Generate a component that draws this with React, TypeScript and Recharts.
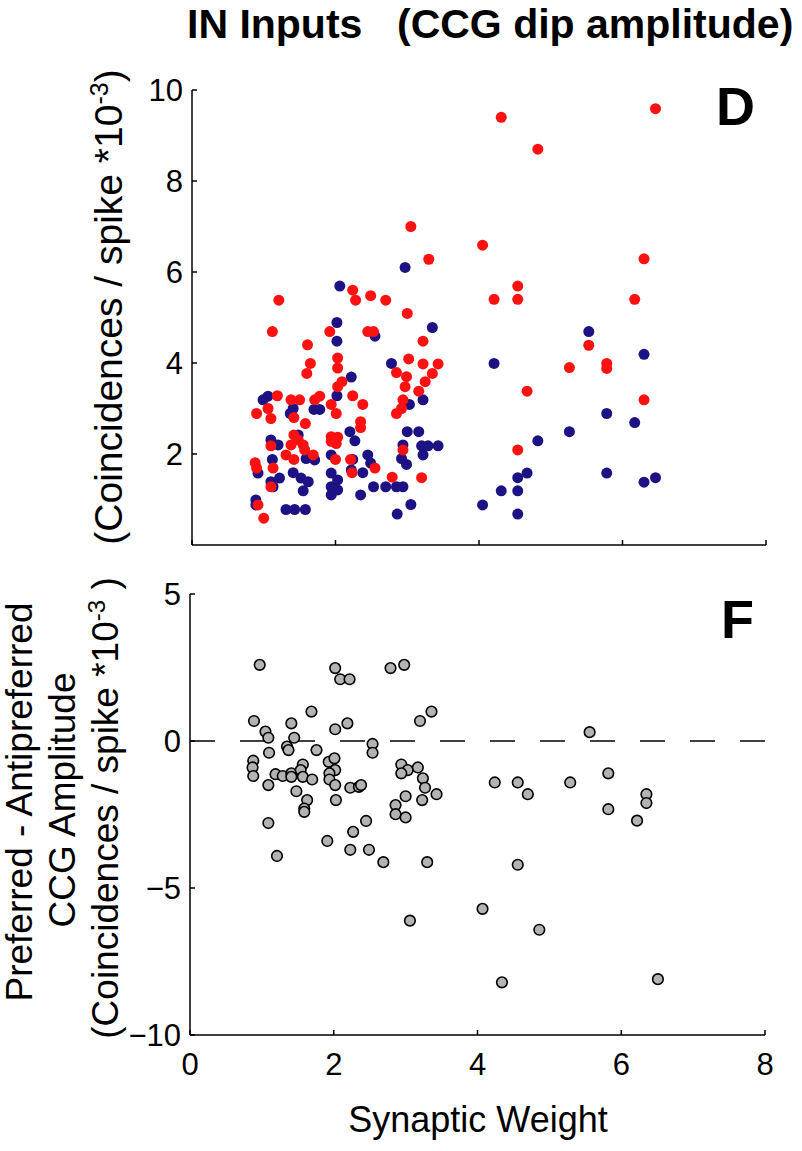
import React from 'react';
import { ScatterChart, Scatter, XAxis, YAxis, ReferenceLine } from 'recharts';

// panel D: CCG dip amplitude vs synaptic weight, two cell groups
const redDips: [number, number][] = [
  [1.21, 5.38], [1.12, 4.69], [1.61, 4.4], [1.65, 3.99], [1.6, 3.77], [1.92, 4.69], [2.03, 4.11], [2.03, 3.89],
  [2.03, 3.48], [1.19, 3.28], [1.38, 3.19], [1.5, 3.19], [1.71, 3.19], [1.78, 3.27], [1.94, 3.09], [1.06, 3.0],
  [0.9, 2.89], [1.1, 2.78], [1.42, 2.8], [1.58, 2.67], [2.01, 2.89], [1.42, 2.42], [1.48, 2.31], [1.38, 2.2],
  [1.55, 2.2], [1.57, 2.09], [1.69, 1.98], [1.31, 1.98], [1.42, 1.88], [1.1, 2.18], [1.94, 2.38], [2.01, 2.23],
  [2.0, 1.88], [0.88, 1.81], [0.9, 1.69], [1.13, 1.69], [1.1, 1.28], [0.92, 0.88], [1.0, 0.59], [2.03, 2.37],
  [1.94, 2.28],
  [3.05, 7.0], [3.3, 6.28], [2.24, 5.6], [2.28, 5.38], [2.49, 5.48], [2.7, 5.38], [3.0, 5.09], [2.45, 4.69],
  [2.53, 4.69], [3.22, 4.48], [3.02, 4.09], [3.22, 3.98], [3.43, 3.98], [2.85, 3.79], [2.99, 3.7], [2.97, 3.48],
  [3.35, 3.77], [3.25, 3.59], [3.16, 3.38], [2.09, 3.59], [2.24, 3.28], [2.38, 3.09], [2.94, 3.19], [2.92, 3.0],
  [2.85, 2.89], [2.35, 2.71], [2.35, 2.58], [2.21, 1.88], [2.94, 2.09], [2.55, 1.69], [2.23, 1.59], [2.79, 1.49],
  [3.2, 1.48],
  [4.31, 9.4], [6.46, 9.59], [4.82, 8.7], [4.05, 6.59], [6.3, 6.29], [4.21, 5.4], [4.54, 5.69], [4.54, 5.4],
  [6.17, 5.4], [5.53, 4.39], [5.26, 3.9], [5.78, 3.99], [5.78, 3.88], [4.67, 3.38], [6.3, 3.19], [4.54, 2.09],
];

const blueDips: [number, number][] = [
  [2.06, 5.69], [2.02, 4.89], [2.02, 4.48], [2.02, 3.28], [1.06, 3.27], [0.99, 3.19], [1.41, 3.0], [1.37, 2.89],
  [1.7, 2.98], [1.78, 2.98], [1.1, 2.31], [1.2, 2.2], [1.48, 2.42], [1.59, 1.9], [1.71, 1.87], [1.12, 1.88],
  [1.94, 1.98], [0.92, 1.58], [1.41, 1.59], [1.52, 1.47], [1.62, 1.39], [1.22, 1.47], [1.1, 1.39], [1.13, 1.28],
  [1.55, 1.19], [1.94, 1.58], [1.94, 1.28], [1.94, 1.1], [2.03, 1.43], [2.03, 1.21], [0.89, 0.99], [0.89, 0.88],
  [1.31, 0.78], [1.43, 0.78], [1.58, 0.78],
  [2.97, 6.1], [2.55, 4.59], [3.35, 4.78], [2.78, 3.99], [2.22, 3.69], [3.03, 3.09], [3.22, 3.19], [2.2, 2.49],
  [2.27, 2.29], [3.0, 2.49], [3.16, 2.49], [2.94, 2.2], [3.2, 2.18], [3.29, 2.18], [3.43, 2.18], [3.22, 1.98],
  [2.92, 1.9], [2.99, 1.77], [2.45, 1.98], [2.49, 1.8], [2.24, 1.88], [2.22, 1.65], [2.38, 1.59], [2.35, 1.1],
  [2.53, 1.28], [2.7, 1.28], [2.85, 1.28], [2.94, 1.28], [3.05, 0.89], [2.86, 0.68],
  [5.53, 4.69], [6.3, 4.19], [4.21, 3.99], [5.78, 2.89], [6.17, 2.69], [5.26, 2.49], [4.82, 2.29], [4.67, 1.58],
  [4.54, 1.48], [5.78, 1.58], [6.3, 1.38], [6.46, 1.48], [4.31, 1.19], [4.54, 1.19], [4.05, 0.88], [4.54, 0.68],
];

// panel F: preferred - antipreferred difference
const diffs: [number, number][] = [
  [0.97, 2.59], [2.02, 2.48], [2.09, 2.1], [2.22, 2.1], [2.79, 2.48], [2.98, 2.59], [1.69, 1.0], [0.89, 0.68],
  [1.41, 0.6], [2.19, 0.6], [3.2, 0.68], [3.36, 1.0], [2.02, 0.4], [1.05, 0.32], [1.09, 0.11], [1.45, 0.11],
  [2.54, -0.1], [2.54, -0.4], [1.35, -0.19], [1.37, -0.31], [1.76, -0.31], [1.1, -0.4], [0.88, -0.67], [0.87, -0.9],
  [0.88, -1.19], [1.19, -1.13], [1.29, -1.19], [1.41, -1.1], [1.41, -1.22], [1.57, -0.8], [1.54, -0.99], [1.57, -1.22],
  [1.7, -1.31], [1.93, -0.71], [2.01, -0.59], [2.02, -0.99], [1.94, -1.1], [1.94, -1.31], [2.02, -1.5], [1.09, -1.5],
  [2.23, -1.59], [2.35, -1.56], [2.38, -1.5], [1.48, -1.71], [1.63, -2.01], [1.59, -2.3], [1.59, -2.41], [2.03, -2.01],
  [2.94, -0.8], [3.03, -0.99], [2.94, -1.1], [3.17, -0.9], [3.24, -1.27], [3.27, -1.59], [3.43, -1.81], [3.23, -2.01],
  [3.0, -1.88], [2.86, -2.18], [2.86, -2.49], [3.0, -2.6], [1.09, -2.79], [2.45, -2.72], [2.27, -3.09], [1.91, -3.4],
  [2.23, -3.7], [2.49, -3.7], [1.21, -3.91], [2.69, -4.12], [3.3, -4.12], [5.56, 0.3], [4.24, -1.41], [4.56, -1.41],
  [4.7, -1.81], [5.29, -1.41], [5.82, -1.1], [5.82, -2.32], [6.35, -1.81], [6.35, -2.11], [6.22, -2.71], [4.56, -4.21],
  [3.06, -6.11], [4.07, -5.71], [4.86, -6.42], [4.34, -8.21], [6.51, -8.1],
];

const weightTicks = [0, 2, 4, 6, 8];
const dipTicks = [2, 4, 6, 8, 10];
const diffTicks = [-10, -5, 0, 5];

const FONT = "'Liberation Sans', Arial, Helvetica, sans-serif";
const toXY = (pts: [number, number][]) => pts.map(([x, y]) => ({ x, y }));
const fmt = (v: number) => (v < 0 ? '\u2212' + Math.abs(v) : String(v));

function LeftTick(props: any) {
  const { x, y, payload, showLabel = true } = props;
  return (
    <g>
      <line x1={x} y1={y} x2={x + 5} y2={y} stroke="#000" strokeWidth={1.5} />
      {showLabel && (
        <text x={x - 9} y={y + 11} textAnchor="end" fontSize={31} fontFamily={FONT} fill="#000">
          {fmt(payload.value)}
        </text>
      )}
    </g>
  );
}

function BottomTick(props: any) {
  const { x, y, payload, showLabel = true } = props;
  return (
    <g>
      <line x1={x} y1={y} x2={x} y2={y - 5} stroke="#000" strokeWidth={1.5} />
      {showLabel && (
        <text x={x} y={y + 40} textAnchor="middle" fontSize={31} fontFamily={FONT} fill="#000">
          {fmt(payload.value)}
        </text>
      )}
    </g>
  );
}

const dot = (fill: string) => (p: any) => <circle cx={p.cx} cy={p.cy} r={5.5} fill={fill} />;
const grayDot = (p: any) => <circle cx={p.cx} cy={p.cy} r={5.3} fill="#b3b3b3" stroke="#000" strokeWidth={1.6} />;

const axisLine = { stroke: '#000', strokeWidth: 1.5 };

export default function App() {
  return (
    <div style={{ position: 'absolute', left: 0, top: 0, width: 802, height: 1151, background: '#fff' }}>
      <div style={{ position: 'absolute', left: 0, top: 0 }}>
        <ScatterChart width={802} height={560} margin={{ top: 90, right: 36, bottom: 14, left: 191 }}>
          <XAxis
            type="number" dataKey="x" domain={[0, 8]} ticks={weightTicks} interval={0} height={1}
            tickSize={0} tickMargin={0} tickLine={false} axisLine={axisLine}
            tick={(p: any) => <BottomTick {...p} showLabel={false} />}
          />
          <YAxis
            type="number" dataKey="y" domain={[0, 10]} ticks={dipTicks} interval={0} width={1}
            tickSize={0} tickMargin={0} tickLine={false} axisLine={axisLine}
            tick={(p: any) => <LeftTick {...p} />}
          />
          <Scatter data={toXY(blueDips)} shape={dot('#1d1283')} isAnimationActive={false} />
          <Scatter data={toXY(redDips)} shape={dot('#ff1111')} isAnimationActive={false} />
        </ScatterChart>
      </div>
      <div style={{ position: 'absolute', left: 0, top: 560 }}>
        <ScatterChart width={802} height={591} margin={{ top: 34, right: 37, bottom: 115, left: 189 }}>
          <XAxis
            type="number" dataKey="x" domain={[0, 8]} ticks={weightTicks} interval={0} height={1}
            tickSize={0} tickMargin={0} tickLine={false} axisLine={axisLine}
            tick={(p: any) => <BottomTick {...p} />}
          />
          <YAxis
            type="number" dataKey="y" domain={[-10, 5]} ticks={diffTicks} interval={0} width={1}
            tickSize={0} tickMargin={0} tickLine={false} axisLine={axisLine}
            tick={(p: any) => <LeftTick {...p} />}
          />
          <ReferenceLine y={0} stroke="#000" strokeWidth={1.5} strokeDasharray="25 25" />
          <Scatter data={toXY(diffs)} shape={grayDot} isAnimationActive={false} />
        </ScatterChart>
      </div>
      <svg
        width={802} height={1151}
        style={{ position: 'absolute', left: 0, top: 0, pointerEvents: 'none' }}
        fontFamily={FONT} fill="#000"
      >
        <text x={187} y={38} fontSize={41} fontWeight="bold">IN Inputs</text>
        <text x={397} y={38} fontSize={41} fontWeight="bold">(CCG dip amplitude)</text>
        <text x={716} y={125} fontSize={54} fontWeight="bold">D</text>
        <text x={721} y={638} fontSize={54} fontWeight="bold">F</text>
        <text x={122} y={307} fontSize={39} textAnchor="middle" transform="rotate(-90 122 307)">
          (Coincidences / spike *10<tspan dy={-14} fontSize={25}>-3</tspan><tspan dy={14}>)</tspan>
        </text>
        <text x={32} y={802} fontSize={37} textAnchor="middle" transform="rotate(-90 32 802)">
          Preferred - Antipreferred
        </text>
        <text x={75} y={800} fontSize={37} textAnchor="middle" transform="rotate(-90 75 800)">
          CCG Amplitude
        </text>
        <text x={118} y={808} fontSize={37} textAnchor="middle" transform="rotate(-90 118 808)">
          (Coincidences / spike *10<tspan dy={-13} fontSize={24}>-3</tspan><tspan dy={13}> )</tspan>
        </text>
        <text x={478} y={1132} fontSize={36} textAnchor="middle">Synaptic Weight</text>
      </svg>
    </div>
  );
}
